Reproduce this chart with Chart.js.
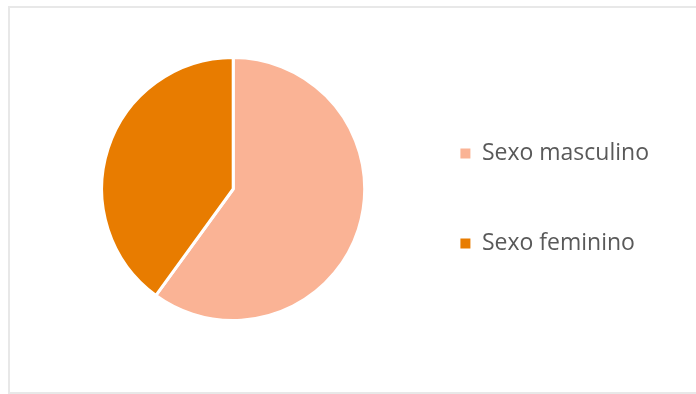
<!DOCTYPE html>
<html lang="pt">
<head>
  <meta charset="UTF-8" />
  <title>Sexo</title>
  <script src="https://cdn.jsdelivr.net/npm/chart.js"></script>
  <style>
    html, body { margin: 0; padding: 0; background: #fff; overflow: hidden; }
    .frame {
      position: absolute; left: 8px; top: 6px; width: 720px; height: 384px;
      border: 2px solid #e8e8e8; border-right: none;
    }
    .box { position: absolute; left: 0; top: 0; width: 696px; height: 394px; }
  </style>
</head>
<body>
  <div class="frame"></div>
  <div class="box"><canvas id="pieChart"></canvas></div>

  <script>
    const labels = ['Sexo masculino', 'Sexo feminino'];
    const values = [60, 40];
    const colors = ['#FAB395', '#E87C00'];

    new Chart(document.getElementById('pieChart'), {
      type: 'pie',
      data: {
        labels: labels,
        datasets: [{
          data: values,
          backgroundColor: colors,
          borderColor: '#ffffff',
          borderWidth: 3
        }]
      },
      options: {
        responsive: true,
        maintainAspectRatio: false,
        animation: false,
        layout: { padding: { left: 73, right: 37, top: 56, bottom: 72 } },
        plugins: {
          tooltip: { enabled: false },
          legend: {
            position: 'right',
            align: 'end',
            labels: {
              boxWidth: 10,
              boxHeight: 10,
              padding: 67,
              color: '#595959',
              font: { family: 'Open Sans', size: 23 },
              generateLabels(chart) {
                // plain squares, no white outline from the slice border
                return Chart.overrides.pie.plugins.legend.labels.generateLabels(chart)
                  .map(item => Object.assign(item, { lineWidth: 0 }));
              }
            }
          }
        }
      }
    });
  </script>
</body>
</html>
